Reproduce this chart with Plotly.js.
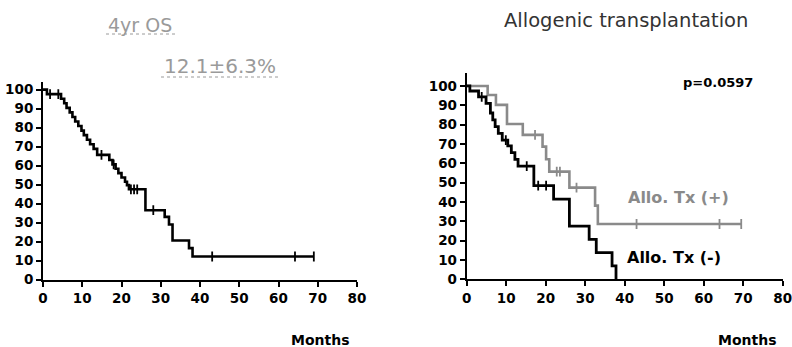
<!DOCTYPE html>
<html>
<head>
<meta charset="utf-8">
<script src="https://cdn.plot.ly/plotly-3.0.1.min.js"></script>
<style>html,body{margin:0;padding:0;background:#fff;}#chart{width:792px;height:347px;}</style>
</head>
<body>
<div id="chart"></div>
<script>
// ---- Data ----
// Left panel: overall survival (Kaplan-Meier), months vs %
const osTime = [0, 1, 4.6, 5.4, 6.0, 6.8, 7.5, 8.2, 9.0, 9.8, 10.4, 11.2, 12.0, 12.9, 13.8, 16.9, 17.7, 18.5, 19.2, 20.0, 20.9, 21.4, 21.9, 26.1, 31.0, 32.1, 33.0, 37.2, 38.1, 69];
const osSurv = [100, 97.6, 95.2, 92.8, 90.4, 88.0, 85.6, 83.2, 80.8, 78.4, 76.0, 73.6, 71.2, 68.8, 65.6, 62.9, 60.6, 58.3, 56.0, 53.7, 51.5, 49.7, 47.5, 36.5, 33.0, 29.0, 20.5, 16.5, 12.1, 12.1];
const osCensT = [1.8, 3.9, 14.9, 18.0, 22.4, 23.2, 24.0, 28.1, 43.1, 64.2, 69];
const osCensS = [97.6, 97.6, 65.6, 60.6, 47.5, 47.5, 47.5, 36.5, 12.1, 12.1, 12.1];

// Right panel: Allo. Tx (+)
const txPosTime = [0, 5.3, 7.4, 10.2, 14.2, 19.2, 20.1, 20.9, 26.0, 32.5, 33.2, 69.5];
const txPosSurv = [100, 95.3, 90.2, 80.3, 74.7, 68.6, 62.1, 55.7, 47.4, 38.1, 28.6, 28.6];
const txPosCensT = [17.3, 22.8, 23.6, 27.8, 43.0, 64.0, 69.5];
const txPosCensS = [74.7, 55.7, 55.7, 47.4, 28.6, 28.6, 28.6];

// Right panel: Allo. Tx (-)
const txNegTime = [0, 0.8, 3.0, 4.9, 6.0, 6.6, 7.2, 8.0, 9.0, 10.4, 11.3, 12.2, 13.0, 17.0, 22.0, 26.0, 31.0, 32.8, 36.8, 37.8];
const txNegSurv = [100, 97.4, 94.4, 91.0, 86.0, 82.5, 79.0, 75.5, 72.0, 69.0, 65.5, 62.0, 58.5, 48.5, 41.5, 27.5, 20.7, 13.8, 6.9, 0];
const txNegCensT = [3.8, 9.9, 15.2, 18.1, 20.1];
const txNegCensS = [94.4, 72.0, 58.5, 48.5, 48.5];

const xTicks = [0, 10, 20, 30, 40, 50, 60, 70, 80];
const yTicks = [0, 10, 20, 30, 40, 50, 60, 70, 80, 90, 100];

// ---- Traces ----
const black = '#000000';
const grey = '#8a8a8a';
const censMarker = (c) => ({symbol: 'line-ns-open', size: 7, color: c, line: {color: c, width: 1.8}});

const traces = [
  {x: osTime, y: osSurv, xaxis: 'x', yaxis: 'y', mode: 'lines', line: {shape: 'hv', color: black, width: 2.6}, showlegend: false, hoverinfo: 'skip'},
  {x: osCensT, y: osCensS, xaxis: 'x', yaxis: 'y', mode: 'markers', marker: censMarker(black), showlegend: false, hoverinfo: 'skip'},
  {x: txPosTime, y: txPosSurv, xaxis: 'x2', yaxis: 'y2', mode: 'lines', line: {shape: 'hv', color: grey, width: 2.6}, showlegend: false, hoverinfo: 'skip'},
  {x: txPosCensT, y: txPosCensS, xaxis: 'x2', yaxis: 'y2', mode: 'markers', marker: censMarker(grey), showlegend: false, hoverinfo: 'skip'},
  {x: txNegTime, y: txNegSurv, xaxis: 'x2', yaxis: 'y2', mode: 'lines', line: {shape: 'hv', color: black, width: 2.8}, showlegend: false, hoverinfo: 'skip'},
  {x: txNegCensT, y: txNegCensS, xaxis: 'x2', yaxis: 'y2', mode: 'markers', marker: censMarker(black), showlegend: false, hoverinfo: 'skip'}
];

const tickFont = {family: 'DejaVu Sans', size: 13.5, color: '#000', weight: 'bold'};
const xAxisBase = {
  range: [0, 80], tickvals: xTicks, ticktext: xTicks.map(String),
  showline: true, linecolor: '#000', linewidth: 2, mirror: false,
  ticks: 'outside', ticklen: 5, tickwidth: 2, tickcolor: '#000',
  showgrid: false, zeroline: false, tickfont: tickFont, fixedrange: true,
  ticklabeloverflow: 'allow'
};
const yAxisBase = {
  tickvals: yTicks, ticktext: yTicks.map(String),
  showline: true, linecolor: '#000', linewidth: 2,
  ticks: 'outside', ticklen: 5, tickwidth: 2, tickcolor: '#000',
  showgrid: false, zeroline: false, tickfont: tickFont, fixedrange: true,
  ticklabeloverflow: 'allow'
};

const layout = {
  width: 792, height: 347,
  margin: {l: 0, r: 0, t: 0, b: 0},
  paper_bgcolor: '#fff', plot_bgcolor: 'rgba(0,0,0,0)',
  showlegend: false,
  xaxis: Object.assign({}, xAxisBase, {domain: [43/792, 357/792], anchor: 'y'}),
  yaxis: Object.assign({}, yAxisBase, {range: [0, 104], domain: [1 - 279.5/347, 1 - 82/347], anchor: 'x'}),
  xaxis2: Object.assign({}, xAxisBase, {domain: [466.7/792, 782.7/792], anchor: 'y2'}),
  yaxis2: Object.assign({}, yAxisBase, {range: [0, 106.7], domain: [1 - 279.3/347, 1 - 73/347], anchor: 'x2'}),
  annotations: [
    {text: '4yr OS', xref: 'paper', yref: 'paper', x: 140/792, y: 1 - 25/347, showarrow: false, xanchor: 'center', yanchor: 'middle',
     font: {family: 'DejaVu Sans', size: 19, color: '#9a9a9a'}},
    {text: '12.1±6.3%', xref: 'paper', yref: 'paper', x: 220/792, y: 1 - 66/347, showarrow: false, xanchor: 'center', yanchor: 'middle',
     font: {family: 'DejaVu Sans', size: 20, color: '#9a9a9a'}},
    {text: 'Allogenic transplantation', xref: 'paper', yref: 'paper', x: 626/792, y: 1 - 20/347, showarrow: false, xanchor: 'center', yanchor: 'middle',
     font: {family: 'DejaVu Sans', size: 19.5, color: '#333'}},
    {text: 'p=0.0597', xref: 'paper', yref: 'paper', x: 718/792, y: 1 - 82/347, showarrow: false, xanchor: 'center', yanchor: 'middle',
     font: {family: 'DejaVu Sans', size: 13, color: '#000', weight: 'bold'}},
    {text: 'Allo. Tx (+)', xref: 'paper', yref: 'paper', x: 678/792, y: 1 - 197/347, showarrow: false, xanchor: 'center', yanchor: 'middle',
     font: {family: 'DejaVu Sans', size: 16, color: '#8a8a8a', weight: 'bold'}},
    {text: 'Allo. Tx (-)', xref: 'paper', yref: 'paper', x: 674/792, y: 1 - 257/347, showarrow: false, xanchor: 'center', yanchor: 'middle',
     font: {family: 'DejaVu Sans', size: 16, color: '#000', weight: 'bold'}},
    {text: 'Months', xref: 'paper', yref: 'paper', x: 320/792, y: 1 - 340/347, showarrow: false, xanchor: 'center', yanchor: 'middle',
     font: {family: 'DejaVu Sans', size: 14, color: '#000', weight: 'bold'}},
    {text: 'Months', xref: 'paper', yref: 'paper', x: 747/792, y: 1 - 340/347, showarrow: false, xanchor: 'center', yanchor: 'middle',
     font: {family: 'DejaVu Sans', size: 14, color: '#000', weight: 'bold'}}
  ],
  shapes: [
    {type: 'line', xref: 'paper', yref: 'paper', x0: 106/792, x1: 176/792, y0: 1 - 34/347, y1: 1 - 34/347, line: {color: '#9a9a9a', width: 1, dash: 'dot'}},
    {type: 'line', xref: 'paper', yref: 'paper', x0: 161/792, x1: 279/792, y0: 1 - 77/347, y1: 1 - 77/347, line: {color: '#9a9a9a', width: 1, dash: 'dot'}}
  ]
};

Plotly.newPlot('chart', traces, layout, {staticPlot: true, displayModeBar: false});
</script>
</body>
</html>
